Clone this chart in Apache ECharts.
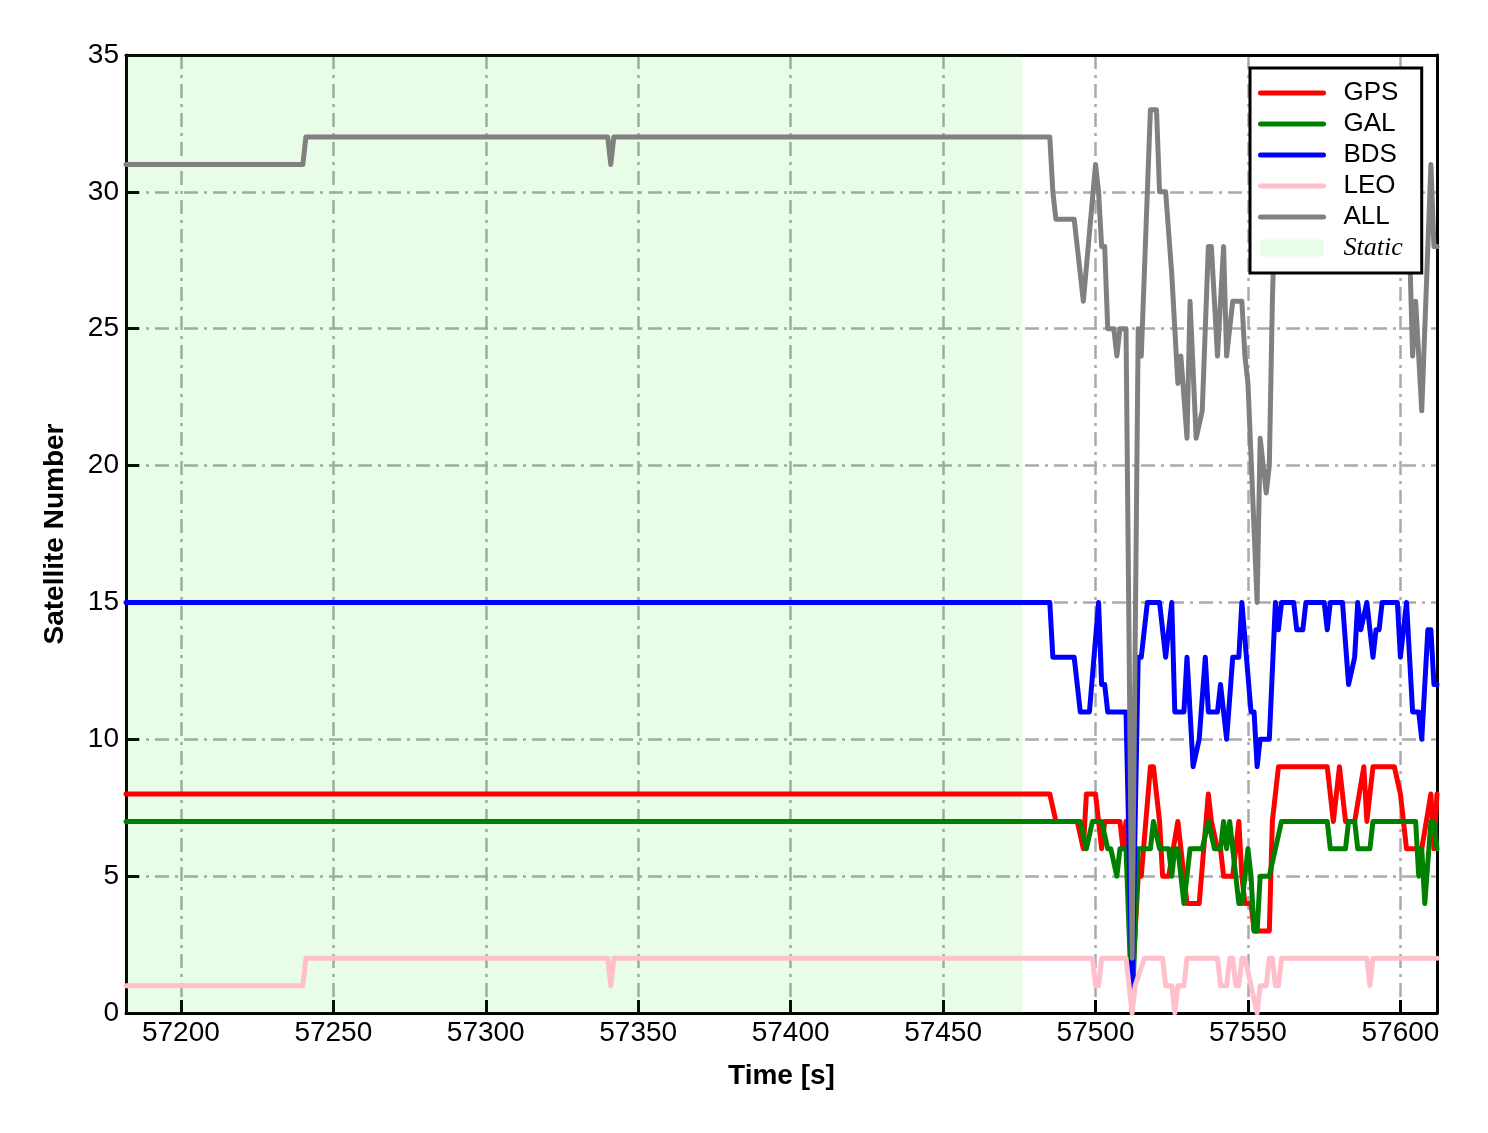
<!DOCTYPE html>
<html><head><meta charset="utf-8">
<script src="https://cdn.jsdelivr.net/npm/echarts@6/dist/echarts.min.js"></script>
<style>html,body{margin:0;padding:0;background:#fff}#c{width:1488px;height:1133px}</style>
</head><body><div id="c"></div>
<script>
const xTicks = [57200, 57250, 57300, 57350, 57400, 57450, 57500, 57550, 57600];
const xRange = [57182, 57612];
const staticRange = [57182, 57476];

const gps = [[57182,8],[57485,8],[57487,7],[57494,7],[57496,6],[57497,8],[57500,8],[57502,6],[57503,7],[57508,7],[57509,6],[57510,7],[57512,1],[57514,5],[57515,5],[57518,9],[57519,9],[57521,7],[57522,5],[57524,5],[57527,7],[57530,4],[57534,4],[57537,8],[57538,7],[57540,6],[57541,6],[57542,5],[57545,5],[57547,7],[57548,5],[57549,4],[57551,4],[57552,3],[57557,3],[57558,7],[57559,8],[57560,9],[57576,9],[57578,7],[57580,9],[57582,7],[57585,7],[57588,9],[57589,7],[57591,9],[57598,9],[57600,8],[57602,6],[57607,6],[57610,8],[57611,6],[57612,8]];

const gal = [[57182,7],[57495,7],[57497,6],[57499,7],[57502,7],[57504,6],[57505,6],[57507,5],[57508,6],[57510,6],[57512,0],[57514,6],[57518,6],[57519,7],[57521,6],[57524,6],[57525,5],[57526,6],[57527,6],[57529,4],[57531,6],[57535,6],[57537,7],[57539,6],[57541,6],[57542,7],[57543,6],[57544,7],[57545,6],[57547,4],[57548,4],[57550,6],[57551,5],[57552,3],[57553,3],[57554,5],[57557,5],[57559,6],[57561,7],[57576,7],[57577,6],[57582,6],[57583,7],[57585,7],[57586,6],[57590,6],[57591,7],[57605,7],[57606,5],[57607,6],[57608,4],[57610,7],[57611,7],[57612,6]];

const bds = [[57182,15],[57485,15],[57486,13],[57493,13],[57495,11],[57498,11],[57501,15],[57502,12],[57503,12],[57504,11],[57510,11],[57512,1],[57514,13],[57515,13],[57517,15],[57521,15],[57523,13],[57525,15],[57526,11],[57529,11],[57530,13],[57532,9],[57534,10],[57536,13],[57537,11],[57540,11],[57541,12],[57543,10],[57545,13],[57547,13],[57548,15],[57551,11],[57552,11],[57553,9],[57554,10],[57557,10],[57559,15],[57560,14],[57561,15],[57565,15],[57566,14],[57568,14],[57569,15],[57575,15],[57576,14],[57577,15],[57581,15],[57583,12],[57585,13],[57586,15],[57587,14],[57589,15],[57591,13],[57592,14],[57593,14],[57594,15],[57599,15],[57600,13],[57602,15],[57604,11],[57606,11],[57607,10],[57609,14],[57610,14],[57611,12],[57612,12]];

const leo = [[57182,1],[57240,1],[57241,2],[57340,2],[57341,1],[57342,2],[57499,2],[57500,1],[57501,1],[57502,2],[57510,2],[57512,0],[57513,1],[57516,2],[57522,2],[57523,1],[57525,1],[57526,0],[57527,1],[57529,1],[57530,2],[57540,2],[57541,1],[57543,1],[57544,2],[57545,2],[57546,1],[57547,1],[57548,2],[57549,2],[57551,1],[57553,0],[57554,1],[57556,1],[57557,2],[57558,2],[57559,1],[57560,1],[57561,2],[57589,2],[57590,1],[57591,2],[57612,2]];

const all = [[57182,31],[57240,31],[57241,32],[57340,32],[57341,31],[57342,32],[57485,32],[57486,30],[57487,29],[57493,29],[57496,26],[57500,31],[57501,30],[57502,28],[57503,28],[57504,25],[57506,25],[57507,24],[57508,25],[57510,25],[57512,2],[57514,25],[57515,24],[57518,33],[57520,33],[57521,30],[57523,30],[57525,27],[57527,23],[57528,24],[57530,21],[57531,26],[57533,21],[57535,22],[57537,28],[57538,28],[57540,24],[57542,28],[57543,24],[57545,26],[57548,26],[57549,24],[57550,23],[57553,15],[57554,21],[57556,19],[57557,20],[57558,26],[57559,30],[57560,32],[57561,33],[57566,32],[57569,33],[57575,33],[57576,31],[57577,30],[57580,32],[57582,29],[57583,28],[57586,30],[57588,31],[57590,32],[57591,31],[57594,33],[57599,33],[57600,30],[57602,30],[57603,28],[57604,24],[57605,26],[57607,22],[57610,31],[57611,28],[57612,28]];

const chart = echarts.init(document.getElementById('c'), null, {renderer: 'canvas'});
const FONT = 'Liberation Sans, Arial, sans-serif';
const gridLine = {show: true, lineStyle: {color: '#aaaaaa', width: 2.5, type: [14, 6, 3, 6]}};
const frameAxis = {show: true, onZero: false, lineStyle: {color: '#000', width: 3}};

function lineSeries(name, data, color) {
  return {
    name, type: 'line', data, symbol: 'none', z: 3, xAxisIndex: 0, yAxisIndex: 0,
    lineStyle: {color, width: 5, join: 'round', cap: 'round'},
    itemStyle: {color}
  };
}

chart.setOption({
  animation: false,
  backgroundColor: '#fff',
  grid: {left: 126, right: 51, top: 55, bottom: 120, show: false},
  xAxis: [{
    type: 'value', min: xRange[0], max: xRange[1], position: 'bottom',
    name: 'Time [s]', nameLocation: 'middle', nameGap: 49,
    nameTextStyle: {fontFamily: FONT, fontSize: 28, fontWeight: 'bold', color: '#000'},
    axisLine: {show: true, onZero: false, lineStyle: {color: '#000', width: 3}},
    axisTick: {show: true, inside: true, length: 13, customValues: xTicks, lineStyle: {color: '#000', width: 3}},
    axisLabel: {customValues: xTicks, fontFamily: FONT, fontSize: 28, color: '#000', margin: 6,
      formatter: v => String(v)},
    splitLine: gridLine
  }, {
    type: 'value', min: xRange[0], max: xRange[1], position: 'top',
    axisLine: frameAxis, axisTick: {show: false}, axisLabel: {show: false}, splitLine: {show: false}
  }],
  yAxis: [{
    type: 'value', min: 0, max: 35, interval: 5, position: 'left',
    name: 'Satellite Number', nameLocation: 'middle', nameGap: 57, nameRotate: 90,
    nameTextStyle: {fontFamily: FONT, fontSize: 28, fontWeight: 'bold', color: '#000'},
    axisLine: {show: true, onZero: false, lineStyle: {color: '#000', width: 3}},
    axisTick: {show: true, inside: true, length: 13, lineStyle: {color: '#000', width: 3}},
    axisLabel: {fontFamily: FONT, fontSize: 28, color: '#000', margin: 7},
    splitLine: gridLine
  }, {
    type: 'value', min: 0, max: 35, interval: 5, position: 'right',
    axisLine: frameAxis, axisTick: {show: false}, axisLabel: {show: false}, splitLine: {show: false}
  }],
  legend: {
    orient: 'vertical', left: 1250, top: 68,
    backgroundColor: '#fff', borderColor: '#000', borderWidth: 3, borderRadius: 0,
    padding: [12, 19, 12, 8], itemWidth: 63, itemHeight: 17, itemGap: 5,
    itemStyle: {opacity: 0},
    lineStyle: {width: 5},
    textStyle: {fontFamily: FONT, fontSize: 26, color: '#000', lineHeight: 26, padding: [0, 0, 0, 15]},
    data: ['GPS', 'GAL', 'BDS', 'LEO', 'ALL',
      {name: 'Static', icon: 'rect', itemStyle: {color: '#e8fce8', borderWidth: 0, opacity: 1},
       textStyle: {fontFamily: 'Liberation Serif, Times New Roman, serif', fontStyle: 'italic', fontSize: 26}}],
    selectedMode: false, z: 10
  },
  series: [
    {name: 'Static', type: 'line', data: [], symbol: 'none', z: 1,
     itemStyle: {color: '#e8fce8'}, lineStyle: {color: '#e8fce8'},
     markArea: {silent: true, itemStyle: {color: 'rgba(0,222,0,0.09)'},
       data: [[{xAxis: staticRange[0]}, {xAxis: staticRange[1]}]]}},
    lineSeries('GPS', gps, '#ff0000'),
    lineSeries('GAL', gal, '#008000'),
    lineSeries('BDS', bds, '#0000ff'),
    lineSeries('LEO', leo, '#ffc0cb'),
    lineSeries('ALL', all, '#808080')
  ]
});
</script>
</body></html>
